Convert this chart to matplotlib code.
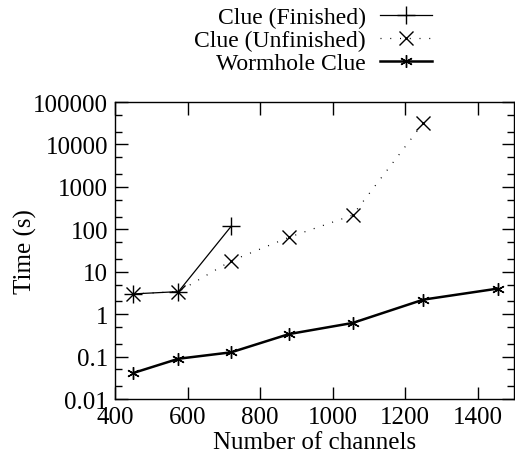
import matplotlib
matplotlib.use("Agg")
import matplotlib.pyplot as plt
from matplotlib.ticker import FixedLocator, FixedFormatter, LogLocator, NullFormatter

# data
finished_x = [450, 575, 720]
finished_y = [3.0, 3.4, 117]
unfinished_x = [450, 575, 720, 880, 1055, 1250]
unfinished_y = [3.0, 3.4, 18, 65, 215, 32000]
wormhole_x = [450, 575, 720, 880, 1055, 1250, 1455]
wormhole_y = [0.041, 0.089, 0.126, 0.34, 0.62, 2.2, 4.0]

x_ticks = [400, 600, 800, 1000, 1200, 1400]
y_ticks = [0.01, 0.1, 1, 10, 100, 1000, 10000, 100000]
y_tick_labels = ["0.01", "0.1", "1", "10", "100", "1000", "10000", "100000"]

plt.rcParams["font.family"] = ["Liberation Serif", "DejaVu Serif"]
plt.rcParams["font.size"] = 18

fig = plt.figure(figsize=(5.15, 4.6), dpi=100)
ax = fig.add_axes([0.2233, 0.1304, 0.7747, 0.6456])

ax.plot(finished_x, finished_y, color="black", lw=0.9, marker="+",
        markersize=13, markeredgewidth=1.0, label="Clue (Finished)")
ax.plot(unfinished_x, unfinished_y, color="black", lw=0.9, dashes=(0.8, 7),
        marker="x", markersize=10, markeredgewidth=1.0, label="Clue (Unfinished)")
ax.plot(wormhole_x, wormhole_y, color="black", lw=1.8, marker=(6, 2, 0),
        markersize=9, markeredgewidth=1.0, label="Wormhole Clue")

ax.set_yscale("log")
ax.set_xlim(400, 1500)
ax.set_ylim(0.01, 100000)
ax.xaxis.set_major_locator(FixedLocator(x_ticks))
ax.yaxis.set_major_locator(FixedLocator(y_ticks))
ax.yaxis.set_major_formatter(FixedFormatter(y_tick_labels))
ax.yaxis.set_minor_locator(LogLocator(base=10, subs=(2, 5), numticks=20))
ax.yaxis.set_minor_formatter(NullFormatter())

ax.tick_params(which="both", direction="in", top=True, right=True, width=1)
ax.tick_params(which="major", length=9, pad=5)
ax.tick_params(which="minor", length=5)
for s in ax.spines.values():
    s.set_linewidth(1.0)

ax.set_xlabel("Number of channels", labelpad=2)
ax.set_ylabel("Time (s)", labelpad=-3)

fig.legend(loc="upper right", bbox_to_anchor=(432 / 515, 1 - 8 / 460),
           frameon=False, markerfirst=False, handlelength=2.2, fontsize=17,
           labelspacing=0.05, borderaxespad=0, borderpad=0, handletextpad=0.6)

fig.savefig("out.png", dpi=100)
